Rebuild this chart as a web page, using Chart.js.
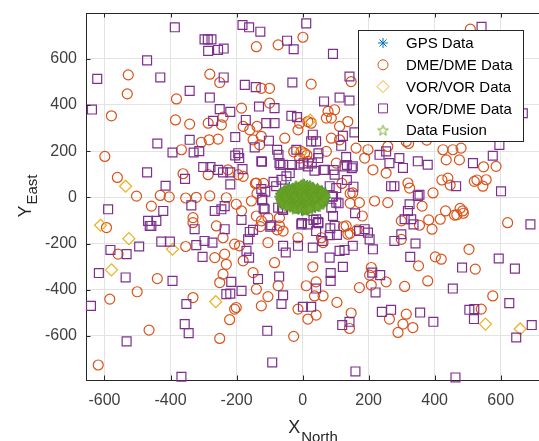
<!DOCTYPE html>
<html><head><meta charset="utf-8">
<script src="https://cdn.jsdelivr.net/npm/chart.js@4.4.1/dist/chart.umd.min.js"></script>
<style>html,body{margin:0;padding:0;background:#fff;overflow:hidden}</style>
</head><body>
<canvas id="c" width="539" height="441" style="display:block;width:539px;height:441px"></canvas>
<script>
// ---- tick labels / axis ranges ----
const xTicks = [-600, -400, -200, 0, 200, 400, 600];
const yTicks = [-600, -400, -200, 0, 200, 400, 600];
const xRange = [-656, 716];
const yRange = [-791, 798];
const seriesNames = ['GPS Data', 'DME/DME Data', 'VOR/VOR Data', 'VOR/DME Data', 'Data Fusion'];

// ---- series values [x, y] ----
const gpsData = [[-70,3],[71,-2],[-58,-30],[60,28],[-40,45],[38,-46],[5,58],[-3,-57],[-62,22],[64,-20],
[-20,-50],[22,50],[0,0],[-30,10],[30,-10],[15,20],[-15,-25],[45,5],[-45,-5],[10,-35]];

const dmeData = [[-528,530],[-531,448],[-281,533],[-251,497],[-382,426],[-579,353],[-385,335],[-342,317],[-286,321],[-246,314],
[-241,347],[-307,238],[-283,249],[-256,252],[-367,206],[-599,177],[-561,86],[-362,102],[-286,98],[-226,119],
[-503,5],[-431,8],[-404,2],[-354,-3],[-322,0],[-281,6],[-231,-2],
[-140,652],[-74,660],[1,693],[26,490],[-125,472],[-100,472],[147,501],[-185,386],[-100,408],[77,372],[97,379],[72,343],[87,343],
[137,328],[16,328],[26,321],[-180,307],[-160,292],[-138,307],[-14,292],[-9,321],[112,307],[-125,264],[-150,249],[-130,227],
[-54,256],[87,256],[112,249],[-4,199],[6,191],[16,156],[162,213],[198,206],[188,170],[72,199],[-195,98],[-180,91],[-140,62],
[213,119],[102,148],[152,19],[-9,170],
[508,728],[425,206],[455,206],[480,213],[435,162],[475,162],[314,242],[258,220],[440,83],[520,69],[546,48],[556,76],[319,62],
[324,40],[253,105],[395,19],[586,134],[548,132],[422,75],[447,53],[528,75],[477,-48],[487,-69],[467,-76],[321,233],[376,248],
[-594,-131],[-559,-246],[-354,-213],[-440,-352],[-501,-409],[-584,-441],[-332,-434],[-465,-575],[-251,-611],[-619,-726],
[-266,-261],[-236,-246],[-231,-290],[-241,-333],[-251,-369],[-221,-530],[-206,-484],[-261,-124],[-241,-175],[-206,-203],
[-332,-88],[-332,-110],[-458,-38],
[-155,-16],[-140,-81],[-125,-102],[-105,-88],[-70,-88],[-70,-124],[-201,-30],[-185,-59],[-59,-146],[-14,-175],[-105,-196],
[132,-124],[137,-160],[181,-81],[172,-23],[218,-16],[57,-175],[62,-196],[-191,-210],[-180,-275],[-85,-283],[31,-301],
[-150,-326],[-74,-383],[-105,-430],[-140,-398],[-125,-470],[11,-383],[36,-427],[62,-427],[41,-366],[-14,-484],[16,-527],
[41,-510],[104,-455],[172,-391],[208,-380],[147,-501],[142,-568],[208,-304],[203,-337],[-27,-602],[-201,-477],
[258,-23],[362,-38],[299,-102],[354,-121],[382,-98],[417,-95],[433,-59],[460,-77],[485,-59],[392,-138],[621,-110],[299,-182],
[504,-225],[402,-258],[420,-268],[351,-297],[523,-311],[379,-362],[253,-366],[309,-386],[576,-427],[541,-484],[314,-506],
[263,-527],[304,-549],[334,-564],[289,-585],
[-143,60],[-138,17],[-118,60],[-128,-127],[-77,-141],[119,60],[144,17],[144,-26],[-27,197],[13,183],[124,-127],[144,-156],[165,-141]];

const vorVorData = [[-536,48],[-612,-121],[-526,-179],[-394,-225],[-579,-314],[-263,-452],[554,-549],[659,-570],[23,334],[-5,195]];

const vorDmeData = [[-387,736],[-297,684],[-287,684],[-276,684],[-286,634],[-256,638],[-239,644],[-471,593],[-622,513],[-431,519],
[-239,519],[-342,461],[-281,432],[-638,380],[-251,382],[-219,370],[-271,331],[-342,249],[-440,233],[-204,261],[-394,194],
[-330,194],[-313,200],[-471,108],[-356,80],[-415,50],[-301,131],[-279,131],[-256,119],[-241,108],[-219,108],[-219,56],[-204,181],
[-182,746],[-162,736],[-128,717],[11,753],[-47,678],[-27,641],[92,621],[-31,497],[-175,487],[-142,477],[142,523],[65,415],
[112,432],[142,419],[-132,393],[-85,386],[-34,353],[-17,347],[-172,335],[-110,321],[-85,321],[31,271],[157,281],[122,266],
[26,242],[41,242],[-102,245],[117,223],[-145,216],[-19,206],[-77,206],[-73,184],[-195,191],[-192,170],[47,170],[233,184],
[-125,156],[-70,148],[-59,141],[-9,141],[16,134],[132,174],[127,134],[152,134],[-182,122],[36,115],[67,119],[97,98],[-39,105],
[-64,76],[-49,91],[-125,36],[-80,48],[82,48],[102,40],[92,4],
[542,738],[667,364],[596,227],[576,180],[516,148],[349,156],[379,141],[293,170],[304,127],[268,48],[278,48],[354,11],[465,48],
[601,26],[253,199],[263,148],
[-589,-52],[-422,-59],[-337,-35],[-266,-59],[-246,-52],[-236,-38],[-468,-102],[-443,-102],[-463,-124],[-458,-124],[-327,-138],
[-236,-138],[-428,-192],[-402,-192],[-322,-207],[-297,-189],[-273,-196],[-495,-213],[-582,-228],[-533,-246],[-303,-258],
[-617,-328],[-536,-347],[-394,-362],[-216,-366],[-231,-419],[-219,-417],[-641,-470],[-352,-462],[-357,-549],[-345,-588],
[-533,-624],[-367,-777],
[-122,-9],[-115,-52],[-74,-45],[-59,-55],[102,-23],[87,-45],[-185,-98],[-150,-141],[-160,-150],[-165,-182],[-95,-121],[-4,-117],
[16,-117],[41,-95],[47,-107],[41,-146],[92,-81],[97,-124],[82,-164],[171,-146],[188,-138],[198,-153],[203,-182],[-59,-210],
[-51,-239],[-14,-210],[31,-218],[60,-189],[-170,-232],[-162,-261],[112,-232],[127,-228],[152,-210],[82,-261],[213,-225],
[122,-301],[85,-328],[85,-362],[-71,-343],[-135,-354],[211,-326],[235,-337],[-185,-405],[41,-395],[-59,-424],[-64,-462],
[1,-474],[26,-474],[221,-412],[240,-496],[120,-553],[142,-539],[-107,-578],[-92,-715],[160,-754],
[349,6],[324,-30],[319,-59],[309,-95],[329,-95],[336,-117],[299,-160],[278,-189],[342,-200],[690,-117],[326,-258],[483,-304],
[594,-265],[643,-309],[455,-395],[268,-487],[356,-499],[396,-539],[505,-487],[520,-484],[519,-527],[626,-458],[694,-553],
[647,-607],[463,-780],
[-123,154],[-67,140],[-32,140],[3,147],[28,147],[48,190],[64,118],[94,118],[134,140],[149,126],[-113,24],[-88,67],[-123,-12],
[-118,-48],[-62,-48],[-57,-19],[89,3],[109,-26],[-98,-127],[-2,-112],[33,-98],[48,-112],[84,-134],[104,-163],[134,75],[154,46],[159,-69]];

const fusionData = [[-20,50],[-4,52],[12,49],[22,51],[2,58],[8,-58],
[-44,41],[-29,39],[-14,42],[1,40],[16,38],[31,41],[45,39],
[-55,29],[-40,31],[-25,28],[-10,32],[5,30],[20,29],[35,31],[50,28],[57,30],
[-62,21],[-47,19],[-32,22],[-17,18],[-2,21],[13,19],[28,22],[43,18],[58,21],[64,19],
[-67,11],[-52,9],[-37,12],[-22,8],[-7,11],[8,9],[23,12],[38,8],[53,11],[67,9],
[-68,-1],[-53,2],[-38,-2],[-23,1],[-8,-1],[7,2],[22,-2],[37,1],[52,-1],[68,1],
[-66,-11],[-51,-8],[-36,-12],[-21,-9],[-6,-11],[9,-8],[24,-12],[39,-9],[54,-11],[66,-9],
[-63,-21],[-48,-19],[-33,-22],[-18,-18],[-3,-21],[12,-19],[27,-22],[42,-18],[57,-21],[62,-19],
[-56,-31],[-41,-28],[-26,-32],[-11,-29],[4,-31],[19,-28],[34,-32],[49,-29],[55,-30],
[-45,-39],[-30,-42],[-15,-38],[0,-41],[15,-39],[30,-42],[44,-40],
[-21,-51],[-5,-49],[11,-52],[21,-50]];

// ---- styles ----
const C_GPS = '#0072BD', C_DME = '#D95319', C_VV = '#EDB120', C_VD = '#7E2F8E', C_FUS = '#77AC30';
const FONT = '"Liberation Sans", Arial, Helvetica, sans-serif';
const LW = 1.2;

function starCanvas(filled) {
  const s = 13, cv = document.createElement('canvas');
  cv.width = s; cv.height = s;
  const g = cv.getContext('2d');
  g.beginPath();
  for (let i = 0; i < 10; i++) {
    const r = i % 2 === 0 ? 5.6 : (filled ? 3.2 : 2.3);
    const a = -Math.PI / 2 + i * Math.PI / 5;
    const px = s / 2 + r * Math.cos(a), py = s / 2 + 0.4 + r * Math.sin(a);
    if (i === 0) g.moveTo(px, py); else g.lineTo(px, py);
  }
  g.closePath();
  g.strokeStyle = filled ? '#5f9a24' : C_FUS; g.lineWidth = 1;
  if (filled) { g.fillStyle = '#6fa62a'; g.fill(); }
  g.stroke();
  return cv;
}
const starFilled = starCanvas(true);
const starHollow = starCanvas(false);

const toPts = a => a.map(p => ({x: p[0], y: p[1]}));

const datasets = [
  {label: seriesNames[0], data: toPts(gpsData), pointStyle: 'star', pointRadius: 5, borderColor: C_GPS, backgroundColor: 'rgba(0,0,0,0)', borderWidth: LW, order: 1},
  {label: seriesNames[1], data: toPts(dmeData), pointStyle: 'circle', pointRadius: 5, borderColor: C_DME, backgroundColor: 'rgba(0,0,0,0)', borderWidth: LW, order: 4},
  {label: seriesNames[2], data: toPts(vorVorData), pointStyle: 'rectRot', pointRadius: 6, borderColor: C_VV, backgroundColor: 'rgba(0,0,0,0)', borderWidth: LW, order: 3},
  {label: seriesNames[3], data: toPts(vorDmeData), pointStyle: 'rect', pointRadius: 6.3, borderColor: C_VD, backgroundColor: 'rgba(0,0,0,0)', borderWidth: LW, order: 2},
  {label: seriesNames[4], data: toPts(fusionData), pointStyle: starFilled, pointRadius: 6, borderColor: C_FUS, backgroundColor: C_FUS, borderWidth: 0, order: 0}
];
datasets.forEach(d => { d.clip = false; d.pointHoverRadius = d.pointRadius; });

const framePlugin = {
  id: 'frame',
  afterDraw(chart) {
    const ctx = chart.ctx, a = chart.chartArea, xs = chart.scales.x, ys = chart.scales.y;
    ctx.save();
    ctx.strokeStyle = '#262626'; ctx.lineWidth = 1;
    ctx.beginPath();
    ctx.moveTo(a.left, a.top + 0.5); ctx.lineTo(a.right, a.top + 0.5);
    ctx.stroke();
    // inward tick marks
    ctx.beginPath();
    xTicks.forEach(v => {
      const px = Math.round(xs.getPixelForValue(v)) + 0.5;
      ctx.moveTo(px, a.bottom); ctx.lineTo(px, a.bottom - 4.5);
      ctx.moveTo(px, a.top); ctx.lineTo(px, a.top + 4.5);
    });
    yTicks.forEach(v => {
      const py = Math.round(ys.getPixelForValue(v)) + 0.5;
      ctx.moveTo(a.left, py); ctx.lineTo(a.left + 4.5, py);
    });
    ctx.stroke();

    // axis titles with subscripts
    ctx.fillStyle = '#262626';
    ctx.textBaseline = 'alphabetic';
    const mainF = '18px ' + FONT, subF = '15px ' + FONT;
    ctx.font = mainF; const wX = ctx.measureText('X').width;
    ctx.font = subF; const wN = ctx.measureText('North').width;
    const cx = (a.left + a.right) / 2;
    let sx = cx - (wX + wN) / 2;
    ctx.textAlign = 'left';
    ctx.font = mainF; ctx.fillText('X', sx, 433);
    ctx.font = subF; ctx.fillText('North', sx + wX + 1, 442);

    ctx.font = mainF; const wY = ctx.measureText('Y').width;
    ctx.font = subF; const wE = ctx.measureText('East').width;
    const cy = (a.top + a.bottom) / 2;
    ctx.translate(31, cy + (wY + wE) / 2);
    ctx.rotate(-Math.PI / 2);
    ctx.font = mainF; ctx.fillText('Y', 0, 0);
    ctx.font = subF; ctx.fillText('East', wY + 1, 6);
    ctx.restore();

    // legend
    ctx.save();
    const L = 358, T = 30, W = 166, H = 112;
    ctx.fillStyle = '#ffffff'; ctx.fillRect(L, T, W, H);
    ctx.strokeStyle = '#262626'; ctx.lineWidth = 1;
    ctx.strokeRect(L + 0.5, T + 0.5, W - 1, H - 1);
    ctx.font = '15px ' + FONT; ctx.textBaseline = 'middle'; ctx.textAlign = 'left';
    chart.data.datasets.forEach((ds, i) => {
      const y = T + 13 + i * 21.8;
      ctx.strokeStyle = ds.borderColor; ctx.fillStyle = 'rgba(0,0,0,0)'; ctx.lineWidth = 1;
      const ps = (ds.pointStyle === starFilled) ? starHollow : ds.pointStyle;
      Chart.helpers.drawPoint(ctx, {pointStyle: ps, radius: ds.pointRadius, rotation: 0, borderWidth: 1}, 383, y);
      ctx.fillStyle = '#000000';
      ctx.fillText(ds.label, 406, y + 1);
    });
    ctx.restore();
  }
};

const noPad = s => { s.paddingLeft = 0; s.paddingRight = 0; s.paddingTop = 0; s.paddingBottom = 0; };

new Chart(document.getElementById('c'), {
  type: 'scatter',
  data: {datasets},
  options: {
    responsive: false, animation: false, events: [],
    layout: {autoPadding: false, padding: {top: 13, right: 0, left: 0, bottom: 0}},
    plugins: {legend: {display: false}, tooltip: {enabled: false}},
    scales: {
      x: {
        type: 'linear', min: xRange[0], max: xRange[1],
        afterBuildTicks: s => { s.ticks = xTicks.map(v => ({value: v})); },
        afterFit: s => { s.height = 61; noPad(s); },
        grid: {color: '#e3e3e3', lineWidth: 1, drawTicks: false},
        border: {display: true, color: '#262626', width: 1},
        ticks: {padding: 11, color: '#404040', font: {family: FONT, size: 16}, maxRotation: 0, callback: v => String(v)}
      },
      y: {
        type: 'linear', min: yRange[0], max: yRange[1],
        afterBuildTicks: s => { s.ticks = yTicks.map(v => ({value: v})); },
        afterFit: s => { s.width = 86; noPad(s); },
        grid: {color: '#e3e3e3', lineWidth: 1, drawTicks: false},
        border: {display: true, color: '#262626', width: 1},
        ticks: {padding: 9, color: '#404040', font: {family: FONT, size: 16}, callback: v => String(v)}
      }
    }
  },
  plugins: [framePlugin]
});
</script>
</body></html>
